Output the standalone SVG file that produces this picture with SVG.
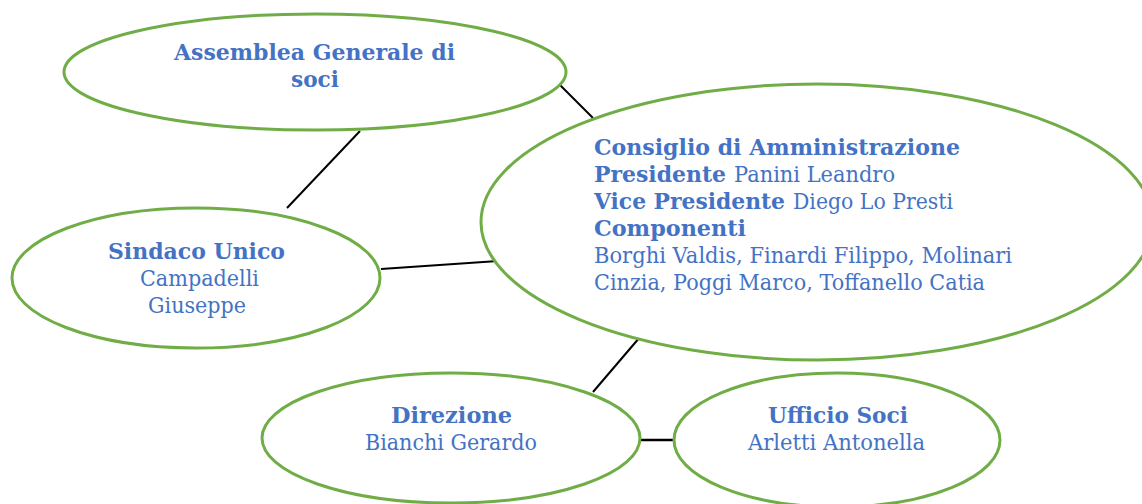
<svg xmlns="http://www.w3.org/2000/svg" width="1142" height="504" viewBox="0 0 1142 504">
<style>
.node{fill:#ffffff;stroke:#70AD47;stroke-width:3}
.conn{stroke:#000000;stroke-width:2;fill:none}
text{font-family:"DejaVu Serif","Liberation Serif",serif;font-size:22px;fill:#4472C4}
.b{font-weight:bold}
</style>
<rect x="0" y="0" width="1142" height="504" fill="#ffffff"/>
<g id="connectors">
<line class="conn" x1="559" y1="84" x2="593" y2="118"/>
<line class="conn" x1="360" y1="131" x2="287" y2="208"/>
<line class="conn" x1="381" y1="269" x2="498" y2="261"/>
<line class="conn" x1="640" y1="337" x2="593" y2="392"/>
<line class="conn" x1="640" y1="440" x2="674" y2="440" style="stroke-width:2.6"/>
</g>
<g id="assemblea">
<ellipse class="node" cx="315" cy="72" rx="251" ry="58"/>
<text class="b" x="174" y="60" textLength="281" lengthAdjust="spacingAndGlyphs">Assemblea Generale di</text>
<text class="b" x="291" y="87" textLength="48" lengthAdjust="spacingAndGlyphs">soci</text>
</g>
<g id="consiglio">
<ellipse class="node" cx="817" cy="222" rx="336" ry="138"/>
<text class="b" x="594" y="155" textLength="366" lengthAdjust="spacingAndGlyphs">Consiglio di Amministrazione</text>
<text class="b" x="594" y="182" textLength="132" lengthAdjust="spacingAndGlyphs">Presidente</text>
<text x="734" y="182" textLength="161" lengthAdjust="spacingAndGlyphs">Panini Leandro</text>
<text class="b" x="594" y="209" textLength="191" lengthAdjust="spacingAndGlyphs">Vice Presidente</text>
<text x="793" y="209" textLength="160" lengthAdjust="spacingAndGlyphs">Diego Lo Presti</text>
<text class="b" x="594" y="236" textLength="152" lengthAdjust="spacingAndGlyphs">Componenti</text>
<text x="594" y="263" textLength="418" lengthAdjust="spacingAndGlyphs">Borghi Valdis, Finardi Filippo, Molinari</text>
<text x="594" y="290" textLength="391" lengthAdjust="spacingAndGlyphs">Cinzia, Poggi Marco, Toffanello Catia</text>
</g>
<g id="sindaco">
<ellipse class="node" cx="196" cy="278" rx="184" ry="70"/>
<text class="b" x="108" y="259" textLength="177" lengthAdjust="spacingAndGlyphs">Sindaco Unico</text>
<text x="140" y="286" textLength="119" lengthAdjust="spacingAndGlyphs">Campadelli</text>
<text x="148" y="313" textLength="98" lengthAdjust="spacingAndGlyphs">Giuseppe</text>
</g>
<g id="direzione">
<ellipse class="node" cx="451" cy="438" rx="189" ry="65"/>
<text class="b" x="391" y="423" textLength="121" lengthAdjust="spacingAndGlyphs">Direzione</text>
<text x="365" y="450" textLength="172" lengthAdjust="spacingAndGlyphs">Bianchi Gerardo</text>
</g>
<g id="ufficio-soci">
<ellipse class="node" cx="837" cy="440" rx="163" ry="67"/>
<text class="b" x="768" y="423" textLength="140" lengthAdjust="spacingAndGlyphs">Ufficio Soci</text>
<text x="748" y="450" textLength="177" lengthAdjust="spacingAndGlyphs">Arletti Antonella</text>
</g>
</svg>
